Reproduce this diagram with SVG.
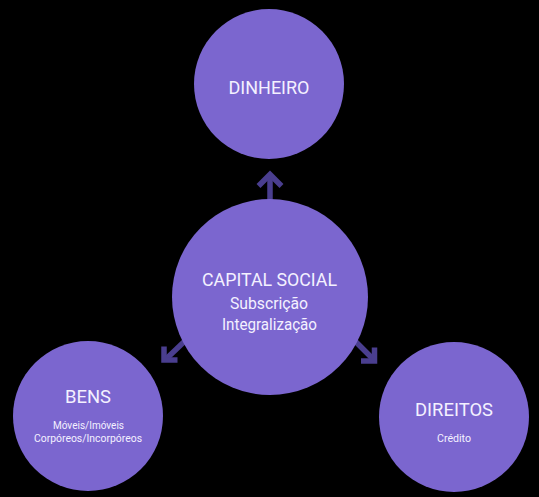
<svg xmlns="http://www.w3.org/2000/svg" width="539" height="497" viewBox="0 0 539 497">
<style>
.bg{fill:#000}
.node{fill:#7b66cf}
.conn{fill:none;stroke:#4a3e8f;stroke-width:5.5;stroke-linecap:butt;stroke-linejoin:miter}
text{font-family:Roboto,"Liberation Sans",sans-serif;fill:#f4f1ff;text-anchor:middle}
.t{font-size:19px}
.s{font-size:16px}
.xs{font-size:11px}
</style>
<rect class="bg" x="0" y="0" width="539" height="497"/>
<g id="connectors">
<line class="conn" x1="270" y1="205" x2="270" y2="176"/>
<polyline class="conn" points="258.5,186 270,174.5 281.5,186"/>
<line class="conn" x1="188" y1="338" x2="165" y2="360"/>
<polyline class="conn" points="164,346.5 164,360 177.5,360"/>
<line class="conn" x1="352" y1="338" x2="373" y2="359"/>
<polyline class="conn" points="374.5,347.5 374.5,361 361,361"/>
</g>
<g id="dinheiro">
<circle class="node" cx="269" cy="84" r="75"/>
<text class="t" x="269" y="94" textLength="81" lengthAdjust="spacingAndGlyphs">DINHEIRO</text>
</g>
<g id="capital-social">
<circle class="node" cx="270" cy="297" r="98"/>
<text class="t" x="269.5" y="286" textLength="135" lengthAdjust="spacingAndGlyphs">CAPITAL SOCIAL</text>
<text class="s" x="269" y="309" textLength="78" lengthAdjust="spacingAndGlyphs">Subscrição</text>
<text class="s" x="269.5" y="330" textLength="95" lengthAdjust="spacingAndGlyphs">Integralização</text>
</g>
<g id="bens">
<circle class="node" cx="88" cy="416" r="75"/>
<text class="t" x="88" y="403" textLength="46" lengthAdjust="spacingAndGlyphs">BENS</text>
<text class="xs" x="88.5" y="429" textLength="71" lengthAdjust="spacingAndGlyphs">Móveis/Imóveis</text>
<text class="xs" x="88" y="442" textLength="108" lengthAdjust="spacingAndGlyphs">Corpóreos/Incorpóreos</text>
</g>
<g id="direitos">
<circle class="node" cx="454" cy="417" r="75"/>
<text class="t" x="454" y="416" textLength="78" lengthAdjust="spacingAndGlyphs">DIREITOS</text>
<text class="xs" x="454" y="442" textLength="34" lengthAdjust="spacingAndGlyphs">Crédito</text>
</g>
</svg>
